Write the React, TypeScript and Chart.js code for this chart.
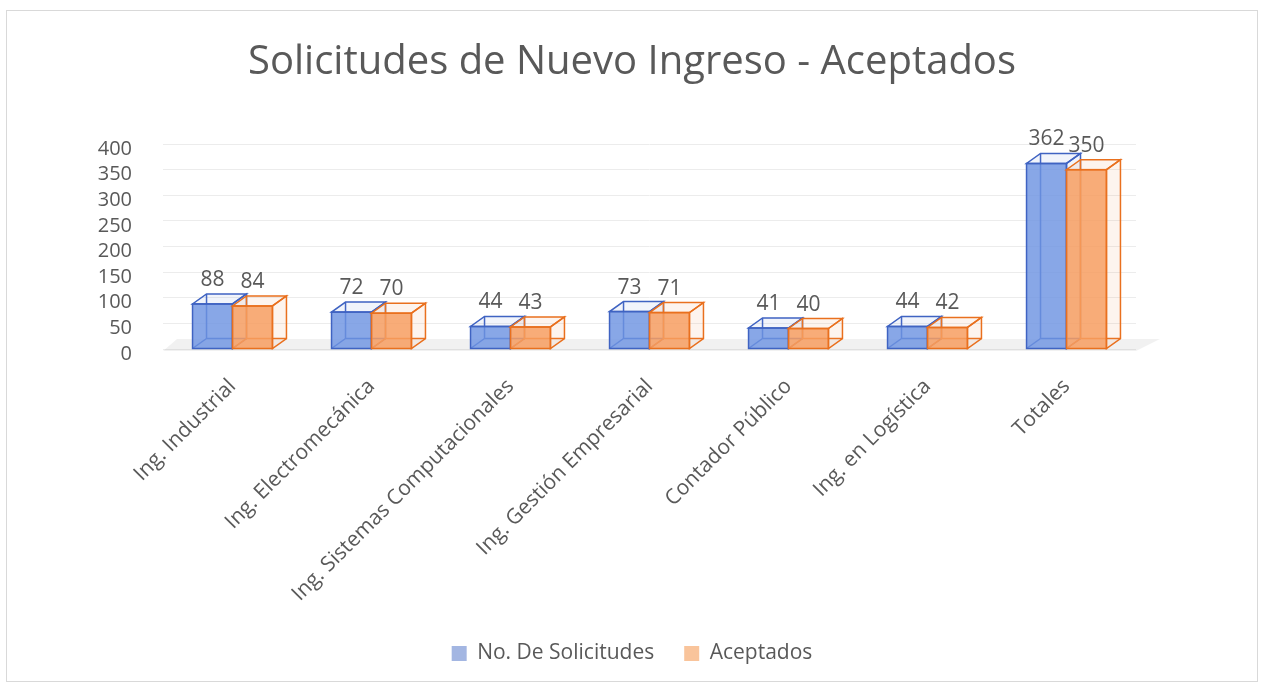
import React, { useEffect, useRef } from "react";
import { Chart, registerables } from "chart.js";

Chart.register(...registerables);

const categories = [
  "Ing. Industrial",
  "Ing. Electromecánica",
  "Ing. Sistemas Computacionales",
  "Ing. Gestión Empresarial",
  "Contador Público",
  "Ing. en Logística",
  "Totales",
];
const solicitudes = [88, 72, 44, 73, 41, 44, 362];
const aceptados = [84, 70, 43, 71, 40, 42, 350];
const seriesNames = ["No. De Solicitudes", "Aceptados"];
const yTicks = [0, 50, 100, 150, 200, 250, 300, 350, 400];

const FONT = "'Open Sans', 'DejaVu Sans', sans-serif";
const TEXT = "#595959";
const DX = 14;
const DY = 10;

const styles = [
  { stroke: "#3f63c2", front: "rgba(110,148,226,0.82)", faint: "rgba(120,150,220,0.10)", legend: "#a3b6e2" },
  { stroke: "#e9701e", front: "rgba(247,158,96,0.85)", faint: "rgba(240,150,90,0.10)", legend: "#f9c49b" },
];

const box3d = {
  id: "box3d",
  beforeDatasetsDraw(chart: any) {
    const { ctx, chartArea } = chart;
    const ys = chart.scales.y;
    const y0 = ys.getPixelForValue(0);
    ctx.save();
    ctx.fillStyle = "rgba(0,0,0,0.055)";
    ctx.beginPath();
    ctx.moveTo(chartArea.left, y0 + 2);
    ctx.lineTo(chartArea.right, y0 + 2);
    ctx.lineTo(chartArea.right + DX + 10, y0 - DY);
    ctx.lineTo(chartArea.left + DX, y0 - DY);
    ctx.closePath();
    ctx.fill();
    ctx.restore();
  },
  afterDatasetsDraw(chart: any) {
    const ctx = chart.ctx;
    const n = chart.data.labels.length;
    for (let i = 0; i < n; i++) {
      for (let d = 0; d < chart.data.datasets.length; d++) {
        const el = chart.getDatasetMeta(d).data[i];
        const { x, y, base, width } = el.getProps(["x", "y", "base", "width"], true);
        const st = styles[d];
        const L = x - width / 2;
        const R = x + width / 2;
        const T = y;
        const B = base;
        ctx.save();
        ctx.lineWidth = 1.5;
        ctx.strokeStyle = st.stroke;
        ctx.beginPath();
        ctx.moveTo(L + DX, B - DY);
        ctx.lineTo(L + DX, T - DY);
        ctx.moveTo(L + DX, B - DY);
        ctx.lineTo(R + DX, B - DY);
        ctx.moveTo(L, B);
        ctx.lineTo(L + DX, B - DY);
        ctx.stroke();
        ctx.fillStyle = st.front;
        ctx.fillRect(L, T, R - L, B - T);
        ctx.fillStyle = st.faint;
        ctx.beginPath();
        ctx.moveTo(L, T);
        ctx.lineTo(R, T);
        ctx.lineTo(R + DX, T - DY);
        ctx.lineTo(L + DX, T - DY);
        ctx.closePath();
        ctx.fill();
        ctx.stroke();
        ctx.beginPath();
        ctx.moveTo(R, T);
        ctx.lineTo(R + DX, T - DY);
        ctx.lineTo(R + DX, B - DY);
        ctx.lineTo(R, B);
        ctx.closePath();
        ctx.fill();
        ctx.stroke();
        ctx.strokeRect(L, T, R - L, B - T);
        ctx.restore();
      }
    }
    ctx.save();
    ctx.font = `21px ${FONT}`;
    ctx.fillStyle = TEXT;
    ctx.textAlign = "center";
    ctx.textBaseline = "alphabetic";
    chart.data.datasets.forEach((ds: any, d: number) => {
      chart.getDatasetMeta(d).data.forEach((el: any, i: number) => {
        const { x, y } = el.getProps(["x", "y"], true);
        ctx.fillText(String(ds.data[i]), x, y - 18);
      });
    });
    ctx.restore();
  },
};

export default function App() {
  const ref = useRef<HTMLCanvasElement | null>(null);
  useEffect(() => {
    if (!ref.current) return;
    const chart = new Chart(ref.current, {
      type: "bar",
      data: {
        labels: categories,
        datasets: [
          { label: seriesNames[0], data: solicitudes, backgroundColor: "rgba(0,0,0,0)", borderWidth: 0 },
          { label: seriesNames[1], data: aceptados, backgroundColor: "rgba(0,0,0,0)", borderWidth: 0 },
        ],
      },
      options: {
        responsive: false,
        animation: false,
        layout: { padding: { left: 0, right: 0, top: 0, bottom: 7 } },
        datasets: { bar: { categoryPercentage: 0.575, barPercentage: 1.0 } },
        plugins: {
          title: {
            display: true,
            text: "Solicitudes de Nuevo Ingreso - Aceptados",
            color: TEXT,
            font: { family: FONT, size: 40, weight: "normal" },
            padding: { top: 28, bottom: 57 },
          },
          legend: {
            position: "bottom",
            labels: {
              boxWidth: 15,
              boxHeight: 15,
              padding: 30,
              color: TEXT,
              font: { family: FONT, size: 21 },
              generateLabels: () =>
                seriesNames.map((name, i) => ({
                  text: name,
                  fillStyle: styles[i].legend,
                  strokeStyle: styles[i].legend,
                  lineWidth: 0,
                  fontColor: TEXT,
                  datasetIndex: i,
                  hidden: false,
                })),
            },
          },
          tooltip: { enabled: false },
        },
        scales: {
          x: {
            grid: { display: false, drawTicks: false },
            border: { display: false },
            ticks: {
              color: TEXT,
              font: { family: FONT, size: 21 },
              maxRotation: 45,
              minRotation: 45,
              autoSkip: false,
              padding: 25,
            },
            afterFit: (s: any) => {
              s.height = 264;
            },
          },
          y: {
            min: 0,
            max: 400,
            grid: { color: "#ececec", drawTicks: false, lineWidth: 1 },
            border: { display: false },
            afterBuildTicks: (s: any) => {
              s.ticks = yTicks.map((v) => ({ value: v }));
            },
            ticks: {
              color: TEXT,
              font: { family: FONT, size: 20 },
              padding: 31,
              labelOffset: 5,
              autoSkip: false,
            },
            afterFit: (s: any) => {
              s.width = 156;
            },
          },
          yRight: {
            position: "right",
            display: true,
            min: 0,
            max: 400,
            grid: { display: false, drawTicks: false },
            border: { display: false },
            ticks: { display: false },
            afterFit: (s: any) => {
              s.width = 121;
            },
          },
        },
      },
      plugins: [box3d],
    });
    return () => chart.destroy();
  }, []);
  return (
    <div
      style={{
        position: "absolute",
        left: 6,
        top: 10,
        width: 1252,
        height: 672,
        border: "1px solid #d9d9d9",
        boxSizing: "border-box",
        background: "#fff",
      }}
    >
      <canvas ref={ref} width={1250} height={670} style={{ display: "block" }} />
    </div>
  );
}
